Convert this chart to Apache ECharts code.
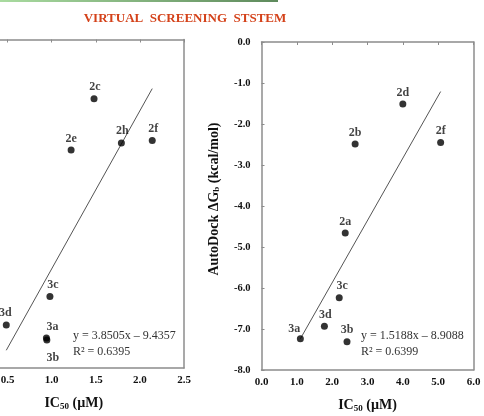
<!DOCTYPE html>
<html>
<head>
<meta charset="utf-8">
<script src="https://cdn.jsdelivr.net/npm/echarts@6/dist/echarts.min.js"></script>
<style>html,body{margin:0;padding:0;background:#fff;overflow:hidden}#c{width:521px;height:416px;margin-left:-37px}</style>
</head>
<body>
<div id="c"></div>
<script>
// ---- data ----
var leftLabels = ['2c', '2e', '2h', '2f', '3c', '3d', '3a', '3b'];
var leftX      = [1.48, 1.22, 1.79, 2.14, 0.98, 0.485, 0.94, 0.945];
var leftY      = [-1.44, -2.69, -2.52, -2.46, -6.26, -6.95, -7.27, -7.32];
var leftFit    = [3.8505, -9.4357];   // slope, intercept
var leftR2     = '0.6395';

var rightLabels = ['2d', '2b', '2f', '2a', '3c', '3d', '3a', '3b'];
var rightX      = [4.0, 2.65, 5.07, 2.37, 2.2, 1.78, 1.1, 2.42];
var rightY      = [-1.51, -2.49, -2.45, -4.66, -6.24, -6.93, -7.24, -7.31];
var rightFit    = [1.5188, -8.9088];
var rightR2     = '0.6399';

var leftXTicks  = [0, 2.5, 0.5];   // min, max, interval
var rightXTicks = [0, 6, 1];
var yTicks      = [-8, 0, 1];

var titleText = 'VIRTUAL  SCREENING  STSTEM';
var xTitle = ['IC', '50', ' (µM)'];
var yTitle = ['AutoDock ΔG', 'b', ' (kcal/mol)'];

// label offsets per point (styling)
var leftOffsets  = [[1,1],[0,1],[1,0],[1,1],[3,1],[-1,1],[6,1],[6,30]];
var rightOffsets = [[0,1],[0,1],[0,1],[0,1],[3,1],[1,1],[-6,3],[0,1]];

var SERIF = '"Liberation Serif","Times New Roman",serif';
var SHIFT = 37; // the canvas starts 37px left of the visible window
var chart = echarts.init(document.getElementById('c'));

function pts(xs, ys, labels, offs) {
  return xs.map(function (x, i) {
    return {value: [x, ys[i]], name: labels[i], label: {offset: offs[i]}};
  });
}
function fitLine(xs, fit) {
  var mn = Math.min.apply(null, xs), mx = Math.max.apply(null, xs);
  return [[mn, fit[0] * mn + fit[1]], [mx, fit[0] * mx + fit[1]]];
}
var fmt = function (v) { return v.toFixed(1); };
var border = {show: true, onZero: false, lineStyle: {color: '#8c8c8c', width: 1.5}};

function xAxes(gi, t) {
  return [
    {gridIndex: gi, type: 'value', min: t[0], max: t[1], interval: t[2], position: 'bottom',
     axisLine: border, axisTick: {show: false}, splitLine: {show: false},
     axisLabel: {formatter: fmt, fontFamily: SERIF, fontWeight: 'bold', fontSize: 11, color: '#111', margin: 7},
     name: '{a|' + xTitle[0] + '}{s|' + xTitle[1] + '}{a|' + xTitle[2] + '}',
     nameLocation: 'middle', nameGap: 28,
     nameTextStyle: {rich: {
       a: {fontFamily: SERIF, fontWeight: 'bold', fontSize: 14, color: '#111'},
       s: {fontFamily: SERIF, fontWeight: 'bold', fontSize: 9, color: '#111', verticalAlign: 'bottom', padding: [6, 0, 0, 0]}
     }}},
    {gridIndex: gi, type: 'value', min: t[0], max: t[1], interval: t[2], position: 'top',
     axisLine: border, axisTick: {show: true, inside: true, length: 3, lineStyle: {color: '#8c8c8c'}},
     axisLabel: {show: false}, splitLine: {show: false}}
  ];
}
function yAxes(gi) {
  return [
    {gridIndex: gi, type: 'value', min: yTicks[0], max: yTicks[1], interval: yTicks[2], position: 'left',
     axisLine: border, axisTick: {show: true, inside: true, length: 3, lineStyle: {color: '#8c8c8c'}},
     splitLine: {show: false},
     axisLabel: {formatter: fmt, fontFamily: SERIF, fontWeight: 'bold', fontSize: 10.5, color: '#111', margin: 11},
     name: '{a|' + yTitle[0] + '}{s|' + yTitle[1] + '}{a|' + yTitle[2] + '}',
     nameLocation: 'middle', nameRotate: 90, nameGap: 40,
     nameTextStyle: {padding: [0, 0, 0, 14], rich: {
       a: {fontFamily: SERIF, fontWeight: 'bold', fontSize: 14, color: '#111'},
       s: {fontFamily: SERIF, fontWeight: 'bold', fontSize: 9, color: '#111', verticalAlign: 'bottom', padding: [6, 0, 0, 0]}
     }}},
    {gridIndex: gi, type: 'value', min: yTicks[0], max: yTicks[1], interval: yTicks[2], position: 'right',
     axisLine: border, axisTick: {show: false}, axisLabel: {show: false}, splitLine: {show: false}}
  ];
}
function scatter(xi, yi, data) {
  return {type: 'scatter', xAxisIndex: xi, yAxisIndex: yi, data: data, symbolSize: 7,
    itemStyle: {color: '#000'}, z: 3,
    label: {show: true, position: 'top', distance: 3, formatter: '{b}',
      fontFamily: SERIF, fontWeight: 'bold', fontSize: 12, color: '#111'}};
}
function line(xi, yi, data) {
  return {type: 'line', xAxisIndex: xi, yAxisIndex: yi, data: data, symbol: 'none',
    lineStyle: {color: '#555', width: 1}, z: 2, silent: true};
}
function eqText(x, y, fit, r2) {
  var b = fit[1] < 0 ? ' – ' + Math.abs(fit[1]).toFixed(4) : ' + ' + fit[1].toFixed(4);
  return [
    {type: 'text', left: x + SHIFT, top: y - 7, style: {text: 'y = ' + fit[0].toFixed(4) + 'x' + b,
      font: '12px ' + SERIF, fill: '#333'}},
    {type: 'text', left: x + SHIFT, top: y + 9, style: {text: 'R² = ' + r2, font: '12px ' + SERIF, fill: '#333'}}
  ];
}

var option = {
  animation: false,
  backgroundColor: '#fff',
  grid: [
    {left: 0.5, right: 300, top: 39.5, bottom: 48, containLabel: false, outerBoundsMode: 'none'},
    {left: 261.5 + SHIFT, right: 10.5, top: 42, bottom: 46, containLabel: false, outerBoundsMode: 'none'}
  ],
  xAxis: xAxes(0, leftXTicks).concat(xAxes(1, rightXTicks)),
  yAxis: yAxes(0).concat(yAxes(1)),
  series: [
    line(0, 0, fitLine(leftX, leftFit)),
    scatter(0, 0, pts(leftX, leftY, leftLabels, leftOffsets)),
    line(2, 2, fitLine(rightX, rightFit)),
    scatter(2, 2, pts(rightX, rightY, rightLabels, rightOffsets))
  ],
  graphic: [
    {type: 'rect', left: SHIFT, top: 0, shape: {width: 278, height: 2},
     style: {fill: new echarts.graphic.LinearGradient(0, 0, 1, 0, [
       {offset: 0, color: '#a9dba0'}, {offset: 1, color: '#5e8a5c'}])}},
    {type: 'text', x: 185 + SHIFT, y: 19, style: {text: titleText, align: 'center', verticalAlign: 'middle',
      font: 'bold 13px ' + SERIF, fill: '#d4421a',
      shadowColor: 'rgba(0,0,0,0.4)', shadowBlur: 2, shadowOffsetX: 1, shadowOffsetY: 1}}
  ].concat(eqText(73, 337, leftFit, leftR2)).concat(eqText(361, 337, rightFit, rightR2))
};
chart.setOption(option);
</script>
</body>
</html>
